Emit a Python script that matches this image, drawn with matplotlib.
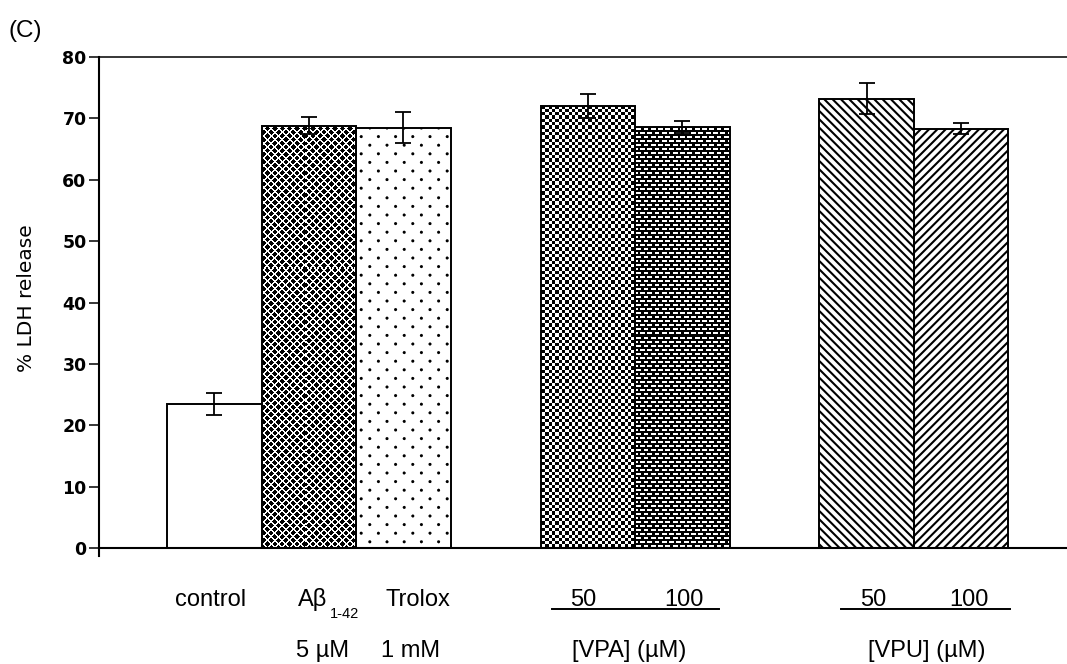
import numpy as np
import matplotlib
matplotlib.use("Agg")
import matplotlib.pyplot as plt
from matplotlib.transforms import blended_transform_factory
from matplotlib.lines import Line2D

# ---- data -------------------------------------------------------------
groups = ["control", "Abeta", "Trolox", "VPA 50", "VPA 100", "VPU 50", "VPU 100"]
ldh_release = [23.5, 68.8, 68.5, 72.0, 68.6, 73.2, 68.3]
ldh_sem = [1.8, 1.4, 2.5, 2.0, 1.0, 2.5, 0.9]
y_ticks = [0, 10, 20, 30, 40, 50, 60, 70, 80]

top_labels = ["control", "Aβ", "Trolox", "50", "100", "50", "100"]
abeta_subscript = "1-42"
dose_labels = ["5 µM", "1 mM"]
series_labels = ["[VPA] (µM)", "[VPU] (µM)"]

# ---- layout -----------------------------------------------------------
positions = [0, 1, 2, 3.95, 4.95, 6.9, 7.9]
W, H = 1067, 664
plt.rcParams["font.family"] = ["Liberation Sans", "DejaVu Sans"]
plt.rcParams["hatch.linewidth"] = 1.5

fig = plt.figure(figsize=(W / 100, H / 100), dpi=100)
fig.patch.set_facecolor("white")
ax = fig.add_axes([99 / W, 1 - 556 / H, 1 - 99 / W, (556 - 57) / H])
ax.set_xlim(-1.222, -1.222 + 968 / 94.5)
ax.set_ylim(-1.3, 80)

bars = ax.bar(positions, ldh_release, width=1.0, facecolor="none",
              edgecolor="black", linewidth=1.4, zorder=2)
ax.errorbar(positions, ldh_release, yerr=ldh_sem, fmt="none", ecolor="black",
            elinewidth=1.3, capsize=6, capthick=1.3, zorder=4)


# ---- fill textures (greyscale, 1 = white) ----------------------------
def _d1(v, period, shift):
    m = np.mod(v - shift, period)
    return np.minimum(m, period - m)


def tex_crosshatch(X, Y):
    p = 7.4
    u = np.mod(X + Y, p)
    v = np.mod(X - Y, p)
    return ((u < 2.0) | (v < 2.0)).astype(float)


def tex_dots(X, Y):
    p = 17.2
    d1 = np.hypot(_d1(X, p, 0), _d1(Y, p, 0))
    d2 = np.hypot(_d1(X, p, p / 2), _d1(Y, p, p / 2))
    d = np.minimum(d1, d2)
    return np.clip(d - 1.0, 0, 1)


def tex_checker(X, Y):
    c = 3.3
    return (np.mod(np.floor(X / c) + np.floor(Y / c), 2)).astype(float)


def tex_ovals(X, Y):
    py, px = 4.0, 7.3
    r = np.floor(Y / py)
    yy = Y - r * py
    xx = np.mod(X + np.mod(r, 2) * px / 2, px)
    return ((yy > 1) & (yy < 3) & (xx > 1.2) & (xx < 6.1)).astype(float)


textures = [None, tex_crosshatch, tex_dots, tex_checker, tex_ovals, None, None]
hatches = [None, None, None, None, None, "\\\\\\\\", "////"]

inv = ax.transData.inverted()
for rect, tex, hatch in zip(bars, textures, hatches):
    if hatch is not None:
        rect.set_hatch(hatch)
    if tex is None:
        continue
    x0d, x1d = rect.get_x(), rect.get_x() + rect.get_width()
    (px0, py0), (px1, py1) = ax.transData.transform([(x0d, 0), (x1d, rect.get_height())])
    px0, px1 = np.floor(px0), np.ceil(px1)
    py0, py1 = np.floor(py0), np.ceil(py1)
    xs = np.arange(px0, px1) + 0.5
    ys = (H - np.arange(py1, py0, -1)) + 0.5  # rows from top
    X, Y = np.meshgrid(xs, ys)
    img = tex(X, Y)
    (ex0, ey0), (ex1, ey1) = inv.transform([(px0, py0), (px1, py1)])
    im = ax.imshow(img, cmap="gray", vmin=0, vmax=1, extent=(ex0, ex1, ey0, ey1),
                   aspect="auto", interpolation="nearest", zorder=1)
    im.set_clip_path(rect)

ax.set_xlim(-1.222, -1.222 + 968 / 94.5)
ax.set_ylim(-1.3, 80)

# ---- axes styling ---------------------------------------------------
ax.spines["right"].set_visible(False)
ax.spines["bottom"].set_position(("data", 0))
ax.spines["bottom"].set_linewidth(1.5)
ax.spines["left"].set_linewidth(1.5)
ax.spines["top"].set_linewidth(1.1)
ax.set_xticks([])
ax.set_yticks(y_ticks)
ax.tick_params(axis="y", direction="out", length=7, width=1.1, pad=2)
for lab in ax.get_yticklabels():
    lab.set_family("DejaVu Sans")
    lab.set_fontweight("bold")
    lab.set_fontsize(12.5)

fig.text(27 / W, 1 - 298.5 / H, "% LDH release", rotation=90, ha="center",
         va="center", family="DejaVu Sans", fontsize=14.5)
fig.text(9 / W, 1 - 31 / H, "(C)", ha="left", va="center", fontsize=17.5)

# ---- category annotations below the axis ----------------------------
tr = blended_transform_factory(ax.transData, fig.transFigure)
row1_y = 1 - 606 / H
row2_y = 1 - 657 / H
line_y = 1 - 609 / H
fs = 17

top_offsets = [-0.04, -0.12, 0.155, -0.045, 0.02, 0.07, 0.08]
for i, (lab, dx) in enumerate(zip(top_labels, top_offsets)):
    ha = "left" if i == 1 else "center"
    t = ax.text(positions[i] + dx, row1_y, lab, transform=tr, ha=ha,
                va="baseline", fontsize=fs)
    if i == 1:
        ax.annotate(abeta_subscript, xy=(1.0, 0.18), xycoords=t,
                    xytext=(2, 0), textcoords="offset points",
                    ha="left", va="top", fontsize=10.5)

ax.text(positions[1] + 0.14, row2_y, dose_labels[0], transform=tr,
        ha="center", va="baseline", fontsize=fs)
ax.text(positions[2] + 0.07, row2_y, dose_labels[1], transform=tr,
        ha="center", va="baseline", fontsize=fs)

pair_idx = [(3, 4), (5, 6)]
line_span = [(-0.88, 0.89), (-0.77, 1.02)]
label_dx = [-0.06, 0.14]
for (a, b), (l0, l1), dx, lab in zip(pair_idx, line_span, label_dx, series_labels):
    mid = (positions[a] + positions[b]) / 2
    ax.add_line(Line2D([mid + l0, mid + l1], [line_y, line_y], transform=tr,
                       color="black", linewidth=1.4, clip_on=False))
    ax.text(mid + dx, row2_y, lab, transform=tr, ha="center", va="baseline",
            fontsize=fs)

fig.savefig("out.png", dpi=100)
